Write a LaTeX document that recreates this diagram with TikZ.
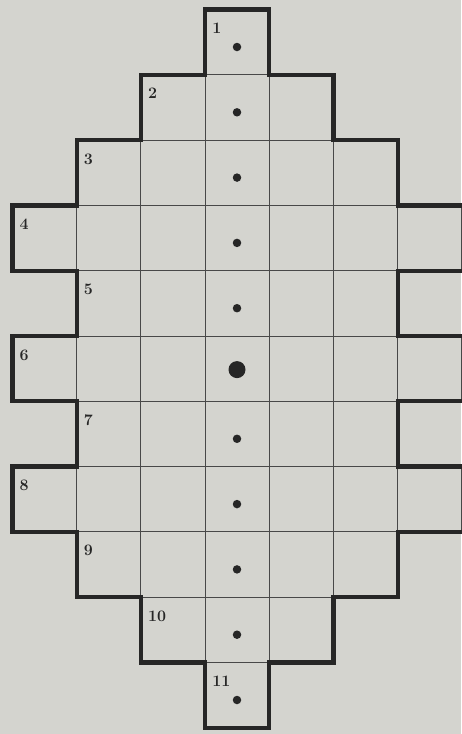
\documentclass[tikz,border=0pt]{standalone}
\definecolor{paper}{RGB}{212,212,207}
\definecolor{ink}{RGB}{38,38,38}
\definecolor{thinink}{RGB}{72,72,72}
\tikzset{
  gridcell/.style={draw=thinink, line width=1pt},
  outline/.style={draw=ink, line width=4.3pt, line join=miter},
  lbl/.style={font=\fontsize{16}{18}\selectfont\bfseries, text=ink, inner sep=0pt, anchor=base west},
  smalldot/.style={circle, fill=ink, inner sep=0pt, minimum size=8.5pt},
  bigdot/.style={circle, fill=ink, inner sep=0pt, minimum size=17pt}
}
\begin{document}
\begin{tikzpicture}[x=1pt,y=-1pt]
\useasboundingbox (0,0) rectangle (461,734);
\fill[paper] (0,0) rectangle (461,734);
% grid points
\foreach \i in {0,...,6}{
  \foreach \j in {0,...,11}{
    \coordinate (p\i-\j) at ({12.5+64.2*\i},{9.5+65.3*\j});
  }
}
\foreach \j in {0,...,11}{
  \coordinate (p7-\j) at (468,{9.5+65.3*\j});
}
% thin cells
\foreach \r/\a/\b in {1/3/3,2/2/4,3/1/5,4/0/6,5/1/5,6/0/6,7/1/5,8/0/6,9/1/5,10/2/4,11/3/3}{
  \foreach \c in {\a,...,\b}{
    \draw[gridcell] ({12.5+64.2*\c},{9.5+65.3*(\r-1)}) rectangle ++(64.2,65.3);
  }
  \node[lbl] (l\r) at ({12.5+64.2*\a+7},{9.5+65.3*(\r-1)+24}) {\r};
}
% dots
\foreach \r in {1,2,3,4,5,7,8,9,10,11}{
  \node[smalldot] (d\r) at (237,{9.5+65.3*(\r-1)+37.5}) {};
}
\node[bigdot] (d6) at (237,369.6) {};
% thick outline
\draw[outline] (p3-0) -- (p4-0) -- (p4-1) -- (p5-1) -- (p5-2) -- (p6-2) -- (p6-3)
  -- (p7-3) -- (p7-4) -- (p6-4) -- (p6-5) -- (p7-5) -- (p7-6) -- (p6-6) -- (p6-7)
  -- (p7-7) -- (p7-8) -- (p6-8) -- (p6-9) -- (p5-9) -- (p5-10) -- (p4-10) -- (p4-11)
  -- (p3-11) -- (p3-10) -- (p2-10) -- (p2-9) -- (p1-9) -- (p1-8) -- (p0-8) -- (p0-7)
  -- (p1-7) -- (p1-6) -- (p0-6) -- (p0-5) -- (p1-5) -- (p1-4) -- (p0-4) -- (p0-3)
  -- (p1-3) -- (p1-2) -- (p2-2) -- (p2-1) -- (p3-1) -- cycle;
\end{tikzpicture}
\end{document}
